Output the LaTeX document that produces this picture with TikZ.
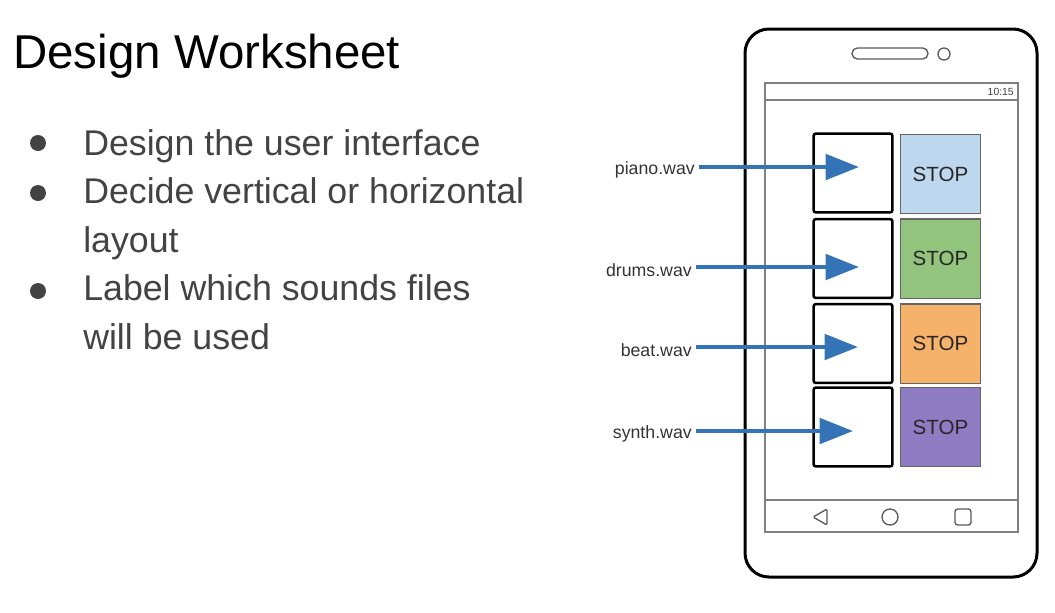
\documentclass[tikz,border=0pt]{standalone}
\usepackage{fontspec}
\setmainfont{Liberation Sans}
\usetikzlibrary{arrows.meta}
\definecolor{bodytext}{HTML}{434343}
\definecolor{arrowblue}{HTML}{3474B6}
\definecolor{stopblue}{HTML}{BDD7EE}
\definecolor{stopgreen}{HTML}{93C47D}
\definecolor{stoporange}{HTML}{F6B26B}
\definecolor{stoppurple}{HTML}{8E7CC3}
\definecolor{screengray}{HTML}{808080}
\tikzset{
  bullettext/.style={anchor=base west, inner sep=0pt, font=\fontsize{26.8}{36.4}\selectfont, text=bodytext, align=left},
  bulletdot/.style={fill=bodytext, draw=none, circle, inner sep=0pt, minimum size=12pt},
  playbox/.style={draw=black, line width=1.9pt, rounded corners=1.5pt, minimum width=59pt, minimum height=59pt, inner sep=0pt},
  stopbox/.style={draw=black!60, line width=1pt, minimum width=60pt, minimum height=59.5pt, inner sep=0pt, font=\fontsize{15.4}{18}\selectfont, text=black!85},
  filelabel/.style={anchor=east, inner sep=3pt, font=\fontsize{13.3}{16}\selectfont, text=black!80},
  soundarrow/.style={draw=arrowblue, line width=3pt, -{Triangle[length=25pt, width=19pt]}},
  thinframe/.style={draw=screengray, line width=1pt},
}
\begin{document}
\begin{tikzpicture}[x=0.75pt, y=-0.75pt]
\useasboundingbox (0,0) rectangle (1055,612);
% title and bullets
\node[anchor=base west, inner sep=0pt, font=\fontsize{35.6}{42}\selectfont] (title) at (13,68) {Design Worksheet};
\node[bulletdot] (d1) at (38,143) {};
\node[bullettext] (b1) at (83,155) {Design the user interface};
\node[bulletdot] (d2) at (38,193) {};
\node[bullettext] (b2) at (83,252) {Decide vertical or horizontal\\layout};
\node[bulletdot] (d3) at (38,291) {};
\node[bullettext] (b3) at (83,349) {Label which sounds files\\will be used};
% phone
\draw[line width=2.25pt, rounded corners=18pt] (745,29) rectangle (1037,577);
\draw[draw=black!65, line width=1pt, rounded corners=4pt] (852,48) rectangle (928,59);
\draw[draw=black!65, line width=1pt] (944,54) circle[radius=6];
\draw[thinframe] (765,83) rectangle (1018,532);
\draw[thinframe] (765,100) -- (1018,100);
\draw[thinframe] (765,500) -- (1018,500);
\node[anchor=east, inner sep=0pt, font=\fontsize{7.8}{9}\selectfont, text=black!75] (clock) at (1014,92) {10:15};
\draw[draw=black!65, line width=1pt, rounded corners=1pt] (813,517) -- (827,509) -- (827,525) -- cycle;
\draw[draw=black!65, line width=1pt] (890,517) circle[radius=8];
\draw[draw=black!65, line width=1pt, rounded corners=2pt] (955,509) rectangle (971,525);
% buttons
\node[playbox] (p1) at (853,173) {};
\node[playbox] (p2) at (853,258.5) {};
\node[playbox] (p3) at (853,343.5) {};
\node[playbox] (p4) at (853,427) {};
\node[stopbox, fill=stopblue] (s1) at (940.5,174) {STOP};
\node[stopbox, fill=stopgreen] (s2) at (940.5,258.5) {STOP};
\node[stopbox, fill=stoporange] (s3) at (940.5,343.5) {STOP};
\node[stopbox, fill=stoppurple] (s4) at (940.5,427) {STOP};
% labels and arrows
\node[filelabel] (l1) at (699,170) {piano.wav};
\node[filelabel] (l2) at (696,270) {drums.wav};
\node[filelabel] (l3) at (696,350) {beat.wav};
\node[filelabel] (l4) at (696,434) {synth.wav};
\coordinate (t1) at (859,167);
\coordinate (t2) at (859,267);
\coordinate (t3) at (858,347);
\coordinate (t4) at (853,431);
\draw[soundarrow] (l1.east |- t1) -- (t1);
\draw[soundarrow] (l2.east |- t2) -- (t2);
\draw[soundarrow] (l3.east |- t3) -- (t3);
\draw[soundarrow] (l4.east |- t4) -- (t4);
\end{tikzpicture}
\end{document}
